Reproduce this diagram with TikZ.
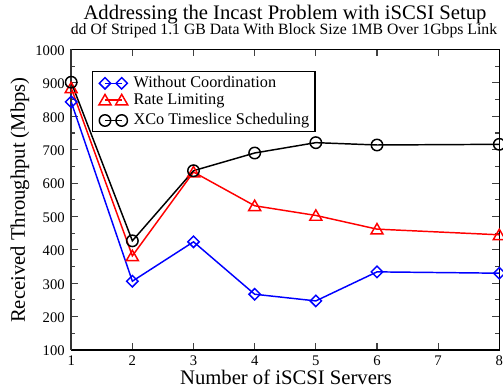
\documentclass[tikz,border=0pt]{standalone}
\usepackage{fontspec}
\setmainfont{Liberation Serif}
\usetikzlibrary{shapes.geometric}
\begin{document}
\begin{tikzpicture}[x=0.75pt,y=-0.75pt,
  frame/.style={line width=1.2pt, black},
  tick/.style={line width=0.8pt, black!75},
  ticklab/.style={font=\fontsize{11pt}{11pt}\selectfont, inner sep=0pt},
  serblue/.style={draw=blue, line width=1.1pt},
  serred/.style={draw=red, line width=1.1pt},
  serblack/.style={draw=black, line width=1.1pt},
  mkdiam/.style={diamond, draw=blue, line width=1.1pt, inner sep=0pt, minimum size=9pt},
  mktri/.style={regular polygon, regular polygon sides=3, draw=red, line width=1.1pt, inner sep=0pt, minimum size=10.4pt},
  mkcirc/.style={circle, draw=black, line width=1.1pt, inner sep=0pt, minimum size=8.6pt},
  legtext/.style={font=\fontsize{12.2pt}{12.2pt}\selectfont, anchor=base west, inner sep=0pt}]
\useasboundingbox (0,0) rectangle (503,391);

% titles
\node[font=\fontsize{15.5pt}{15.5pt}\selectfont, anchor=base, inner sep=0pt] (title) at (285,19.5) {Addressing the Incast Problem with iSCSI Setup};
\node[font=\fontsize{11.8pt}{11.8pt}\selectfont, anchor=base, inner sep=0pt] (subtitle) at (284,35) {dd Of Striped 1.1 GB Data With Block Size 1MB Over 1Gbps Link};
\node[font=\fontsize{15.5pt}{15.5pt}\selectfont, anchor=base, inner sep=0pt] (xtitle) at (286,384) {Number of iSCSI Servers};
\node[font=\fontsize{15.5pt}{15.5pt}\selectfont, rotate=90, inner sep=0pt] (ytitle) at (20,200) {Received Throughput (Mbps)};

% ticks
\foreach \i in {0,...,9} {
  \pgfmathsetmacro{\yy}{350-\i*33.389}
  \draw[tick] (71.2,\yy) -- ++(7,0);
  \draw[tick] (499.3,\yy) -- ++(-7,0);
  \pgfmathtruncatemacro{\lab}{100+\i*100}
  \node[ticklab, anchor=east] (yl\i) at (65,\yy+1) {\lab};
}
\foreach \i in {0,...,8} {
  \pgfmathsetmacro{\yy}{350-\i*33.389-16.694}
  \draw[tick] (71.2,\yy) -- ++(4,0);
  \draw[tick] (499.3,\yy) -- ++(-4,0);
}
\foreach \k in {1,...,8} {
  \pgfmathsetmacro{\xx}{71.2+(\k-1)*61.157}
  \draw[tick] (\xx,350) -- ++(0,-7);
  \draw[tick] (\xx,49.5) -- ++(0,7);
  \node[ticklab, anchor=base] (xl\k) at (\xx,365) {\k};
}

% frame
\draw[frame] (71.2,49.5) -- (499.3,49.5) -- (499.3,350) -- (71.2,350);
\draw[line width=1.6pt, black!80] (71.2,49.5) -- (71.2,350);

% data
\begin{scope}[shift={(53.4pt,-262.5pt)}, x=45.8678pt, y=0.250417pt]
  \coordinate (b1) at (0,743); \coordinate (b2) at (1,206); \coordinate (b3) at (2,324);
  \coordinate (b4) at (3,167); \coordinate (b5) at (4,147); \coordinate (b6) at (5,234);
  \coordinate (b8) at (7,230);
  \coordinate (r1) at (0,785); \coordinate (r2) at (1,282); \coordinate (r3) at (2,533);
  \coordinate (r4) at (3,432); \coordinate (r5) at (4,403); \coordinate (r6) at (5,362);
  \coordinate (r8) at (7,345);
  \coordinate (k1) at (0,802); \coordinate (k2) at (1,327); \coordinate (k3) at (2,537);
  \coordinate (k4) at (3,590); \coordinate (k5) at (4,621); \coordinate (k6) at (5,614);
  \coordinate (k8) at (7,616);
\end{scope}
\draw[serblue] (b1) -- (b2) -- (b3) -- (b4) -- (b5) -- (b6) -- (b8);
\draw[serred] (r1) -- (r2) -- (r3) -- (r4) -- (r5) -- (r6) -- (r8);
\draw[serblack] (k1) -- (k2) -- (k3) -- (k4) -- (k5) -- (k6) -- (k8);
\foreach \p in {1,2,3,4,5,6,8} {
  \node[mkdiam] (mb\p) at (b\p) {};
  \node[mktri, yshift=-1pt] (mr\p) at (r\p) {};
  \node[mkcirc] (mk\p) at (k\p) {};
}

% legend
\draw[line width=0.9pt, fill=white] (92.5,71.7) rectangle (315,131.7);
\coordinate (la1) at (105,83.3); \coordinate (la2) at (121.7,83.3);
\coordinate (lb1) at (105,100); \coordinate (lb2) at (121.7,100);
\coordinate (lc1) at (105,120.5); \coordinate (lc2) at (121.7,120.5);
\draw[serblue] (la1) -- (la2);
\draw[serred] (lb1) -- (lb2);
\draw[serblack] (lc1) -- (lc2);
\node[mkdiam] (lma1) at (la1) {}; \node[mkdiam] (lma2) at (la2) {};
\node[mktri, yshift=-1pt] (lmb1) at (lb1) {}; \node[mktri, yshift=-1pt] (lmb2) at (lb2) {};
\node[mkcirc] (lmc1) at (lc1) {}; \node[mkcirc] (lmc2) at (lc2) {};
\node[legtext] (lt1) at (133.3,88) {Without Coordination};
\node[legtext] (lt2) at (133.3,105) {Rate Limiting};
\node[legtext] (lt3) at (133.3,125) {XCo Timeslice Scheduling};
\end{tikzpicture}
\end{document}
